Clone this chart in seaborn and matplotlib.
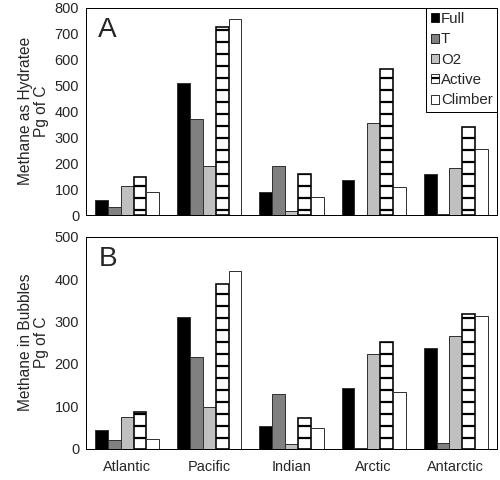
import numpy as np
import pandas as pd
import matplotlib
matplotlib.use('Agg')
import matplotlib.pyplot as plt
import matplotlib.patches as mpatches
import seaborn as sns

# values (Pg of C)
oceans = ['Atlantic', 'Pacific', 'Indian', 'Arctic', 'Antarctic']
runs = ['Full', 'T', 'O2', 'Active', 'Climber']

hydrate_full = [58, 511, 89, 135, 157]
hydrate_t = [31, 370, 190, 2, 5]
hydrate_o2 = [113, 190, 15, 355, 182]
hydrate_active = [145, 727, 160, 562, 340]
hydrate_climber = [87, 757, 68, 109, 254]

bubble_full = [43, 311, 52, 143, 238]
bubble_t = [19, 217, 128, 2, 14]
bubble_o2 = [74, 99, 10, 223, 266]
bubble_active = [87, 389, 71, 251, 317]
bubble_climber = [23, 420, 49, 134, 314]

run_colors = ['#000000', '#808080', '#c0c0c0', '#ffffff', '#ffffff']


def to_long(series_list):
    rows = []
    for run, vals in zip(runs, series_list):
        for ocean, v in zip(oceans, vals):
            rows.append({'ocean': ocean, 'run': run, 'value': v})
    return pd.DataFrame(rows)


df_hyd = to_long([hydrate_full, hydrate_t, hydrate_o2, hydrate_active, hydrate_climber])
df_bub = to_long([bubble_full, bubble_t, bubble_o2, bubble_active, bubble_climber])

sns.set_style('white')
plt.rcParams['font.family'] = ['Liberation Sans', 'DejaVu Sans']
plt.rcParams['hatch.linewidth'] = 2.2
plt.rcParams['hatch.color'] = 'black'

fig = plt.figure(figsize=(500 / 72, 480 / 72), dpi=72)
axA = fig.add_axes([0.172, 0.552, 0.822, 0.432])
axB = fig.add_axes([0.172, 0.0656, 0.822, 0.441])


def draw_panel(ax, df, ymax, letter, ylabel, show_xlabels):
    sns.barplot(data=df, x='ocean', y='value', hue='run', order=oceans, hue_order=runs,
                palette=run_colors, width=0.78, edgecolor='#333333', linewidth=1.0,
                saturation=1, legend=False, ax=ax)
    # ladder pattern on the Active bars
    for bar in ax.containers[3]:
        bar.set_hatch('-')
        bar.set_edgecolor('black')
        bar.set_linewidth(1.6)

    ax.set_xlim(-0.5, 4.5)
    ax.set_ylim(0, ymax)
    ax.set_yticks(np.arange(0, ymax + 1, 100))
    ax.set_xticks(np.arange(-0.5, 5, 1), minor=True)
    ax.tick_params(axis='x', which='major', length=0, labelsize=14.5, pad=11)
    ax.tick_params(axis='x', which='minor', length=5, width=1, direction='out', color='black')
    ax.tick_params(axis='y', length=5, width=1, direction='out', color='black', labelsize=14.5, pad=2)
    if not show_xlabels:
        ax.set_xticklabels([])
    ax.set_xlabel('')
    ax.set_ylabel(ylabel, fontsize=15.5, linespacing=1.05, labelpad=6)
    for s in ax.spines.values():
        s.set_color('black')
        s.set_linewidth(1.0)
    ax.text(0.03, 0.955, letter, transform=ax.transAxes, fontsize=28, va='top', ha='left')


draw_panel(axA, df_hyd, 800, 'A', 'Methane as Hydratee\nPg of C', False)
draw_panel(axB, df_bub, 500, 'B', 'Methane in Bubbles\nPg of C', True)

handles = []
for run, col in zip(runs, run_colors):
    h = mpatches.Patch(facecolor=col, edgecolor='black', linewidth=0.8,
                       hatch='-' if run == 'Active' else None, label=run)
    handles.append(h)
leg = axA.legend(handles=handles, loc='upper right', fontsize=15, frameon=True,
                 fancybox=False, framealpha=1, edgecolor='black', borderaxespad=0,
                 handlelength=0.55, handleheight=0.55, handletextpad=0.12,
                 labelspacing=0.42, borderpad=0.3)
leg.get_frame().set_linewidth(1.0)

fig.savefig('out.png', dpi=72)
